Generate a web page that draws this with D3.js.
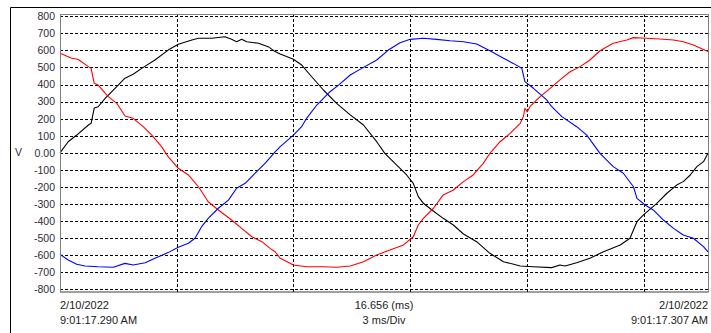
<!DOCTYPE html>
<html><head><meta charset="utf-8">
<script src="https://cdn.jsdelivr.net/npm/d3@7"></script>
<style>
html,body{margin:0;padding:0;background:#fff;}
svg{display:block;font-family:"Liberation Sans",Arial,sans-serif;}
</style></head>
<body>
<svg id="chart" width="711" height="333"></svg>
<script>
// ---- data ----
const yTicks = [800,700,600,500,400,300,200,100,0,-100,-200,-300,-400,-500,-600,-700,-800];
const xSpanMs = 16.656;
const msPerDiv = 3;
const startLabel = ["2/10/2022", "9:01:17.290 AM"];
const endLabel = ["2/10/2022", "9:01:17.307 AM"];
const midLabel = ["16.656 (ms)", "3 ms/Div"];
const yUnit = "V";

const blackT = [0,0.21,0.43,0.73,0.80,0.88,0.98,1.16,1.37,1.67,1.88,2.10,2.44,2.78,3.04,3.39,3.56,3.90,4.24,4.41,4.54,4.67,4.80,5.10,5.35,5.53,5.66,6.00,6.21,6.43,6.77,7.11,7.46,7.80,8.14,8.35,8.61,8.91,9.08,9.21,9.34,9.56,9.85,10.11,10.37,10.71,11.05,11.40,11.83,12.17,12.64,12.85,12.98,13.28,13.62,13.97,14.40,14.65,14.83,14.99,15.34,15.60,15.85,16.02,16.20,16.37,16.54,16.656];
const blackV = [0,65,104,163,173,262,270,319,368,437,460,495,544,602,636,661,671,671,680,665,651,665,651,642,622,593,579,548,515,456,368,290,222,163,65,-3,-62,-130,-179,-257,-296,-335,-384,-423,-476,-521,-589,-638,-663,-668,-673,-658,-663,-644,-618,-580,-540,-501,-404,-365,-296,-237,-189,-169,-130,-81,-52,-3];

const redT = [0,0.30,0.46,0.73,0.80,0.88,0.98,1.24,1.46,1.67,1.88,2.14,2.36,2.61,2.78,3.04,3.30,3.56,3.81,4.07,4.41,4.67,4.93,5.19,5.40,5.53,5.66,6.00,6.34,6.77,7.11,7.46,7.80,8.14,8.48,8.83,9.08,9.21,9.34,9.60,9.85,10.11,10.37,10.62,10.88,11.05,11.31,11.57,11.83,11.91,11.95,12.01,12.08,12.34,12.60,12.85,13.11,13.37,13.62,13.88,14.22,14.57,14.74,15.08,15.42,15.77,16.02,16.28,16.656];
const redV = [583,554,548,505,495,407,397,329,290,216,202,153,104,36,-23,-91,-130,-199,-287,-335,-394,-443,-492,-521,-560,-580,-618,-658,-668,-668,-671,-663,-638,-599,-570,-540,-492,-423,-384,-325,-247,-218,-169,-130,-62,-3,65,114,173,212,261,240,270,329,378,427,475,505,544,598,642,661,675,671,667,661,651,632,593];

const blueT = [0,0.21,0.43,0.64,0.98,1.37,1.67,1.88,2.19,2.44,2.78,3.04,3.30,3.47,3.64,3.81,4.07,4.33,4.54,4.76,5.01,5.27,5.53,5.66,6.00,6.21,6.34,6.60,6.94,7.16,7.46,7.71,8.14,8.44,8.74,9.00,9.34,9.68,10.03,10.37,10.71,11.05,11.40,11.65,11.87,11.95,12.17,12.51,12.64,12.90,13.28,13.54,13.88,14.22,14.48,14.74,14.83,15.04,15.25,15.51,15.77,16.02,16.28,16.54,16.656];
const blueV = [-595,-628,-653,-663,-668,-671,-648,-658,-644,-618,-585,-554,-530,-501,-433,-384,-325,-277,-208,-179,-120,-62,6,36,104,153,202,280,358,397,456,489,544,602,645,665,671,665,657,651,638,598,554,524,495,417,378,310,270,212,153,104,-3,-81,-120,-199,-267,-306,-335,-394,-443,-482,-501,-550,-580];

const seriesColors = ["#000000", "#ff0000", "#0000ff"];

// ---- chart ----
const svg = d3.select("#chart");
const L = 60, R = 708, T = 14, B = 291.5;
const x = d3.scaleLinear().domain([0, xSpanMs]).range([L, R]);
const y = d3.scaleLinear().domain([-800, 800]).range([289.3, 16.3]);

// outer panel frame
svg.append("line").attr("x1", 10.5).attr("x2", 711).attr("y1", 7.5).attr("y2", 7.5).attr("stroke", "#000");
svg.append("line").attr("x1", 10.5).attr("x2", 10.5).attr("y1", 7.5).attr("y2", 333).attr("stroke", "#000");

const plot = svg.append("g");
plot.append("rect").attr("x", L).attr("y", T).attr("width", R - L).attr("height", B - T).attr("fill", "#fff");

// horizontal grid
const hGrid = d3.axisLeft(y).tickValues(yTicks).tickSize(-(R - L)).tickFormat("");
plot.append("g").attr("transform", `translate(${L},0)`).call(hGrid)
  .call(g => g.select(".domain").remove())
  .call(g => g.selectAll("line").attr("stroke", "#000").attr("stroke-dasharray", "3,2").attr("shape-rendering", "crispEdges"));

// vertical grid
const xGridVals = d3.range(msPerDiv, xSpanMs, msPerDiv);
const vGrid = d3.axisBottom(x).tickValues(xGridVals).tickSize(-(B - T)).tickFormat("");
plot.append("g").attr("transform", `translate(0,${B})`).call(vGrid)
  .call(g => g.select(".domain").remove())
  .call(g => g.selectAll("line").attr("stroke", "#000").attr("stroke-dasharray", "3,2").attr("shape-rendering", "crispEdges"));

// series
const series = [[blackT, blackV], [redT, redV], [blueT, blueV]];
const line = d3.line().x(d => x(d[0])).y(d => y(d[1]));
series.forEach((s, i) => {
  const pts = s[0].map((t, j) => [t, s[1][j]]);
  plot.append("path").datum(pts).attr("d", line).attr("fill", "none")
    .attr("stroke", seriesColors[i]).attr("stroke-width", 1.1).attr("stroke-linejoin", "round");
});

// plot border
plot.append("line").attr("x1", L).attr("x2", R).attr("y1", T + 0.5).attr("y2", T + 0.5).attr("stroke", "#808080");
plot.append("line").attr("x1", L + 0.5).attr("x2", L + 0.5).attr("y1", T).attr("y2", B).attr("stroke", "#808080");
plot.append("line").attr("x1", L).attr("x2", R).attr("y1", B + 0.5).attr("y2", B + 0.5).attr("stroke", "#404040");
plot.append("line").attr("x1", R + 0.5).attr("x2", R + 0.5).attr("y1", T).attr("y2", B + 1).attr("stroke", "#808080");

// y labels
const yAxis = d3.axisLeft(y).tickValues(yTicks).tickSize(0).tickPadding(5)
  .tickFormat(d => d === 0 ? "0.00" : String(d));
svg.append("g").attr("transform", `translate(${L},0)`).call(yAxis)
  .call(g => g.select(".domain").remove())
  .call(g => g.selectAll("text").attr("fill", "#2b2b3b").style("font-size", "10.5px")
     .style("font-family", "'Liberation Sans',Arial,sans-serif"));

svg.append("text").attr("x", 15).attr("y", y(0)).attr("dy", "0.35em").text(yUnit)
  .attr("fill", "#2b2b3b").style("font-size", "10.5px");

// bottom labels
const tstyle = sel => sel.attr("fill", "#222").style("font-size", "11px");
[[startLabel, L, "start"], [midLabel, (L + R) / 2, "middle"], [endLabel, R, "end"]].forEach(([lab, xx, anc]) => {
  lab.forEach((s, i) => {
    svg.append("text").attr("x", xx).attr("y", 309 + i * 15).attr("text-anchor", anc).text(s).call(tstyle);
  });
});
</script>
</body></html>
